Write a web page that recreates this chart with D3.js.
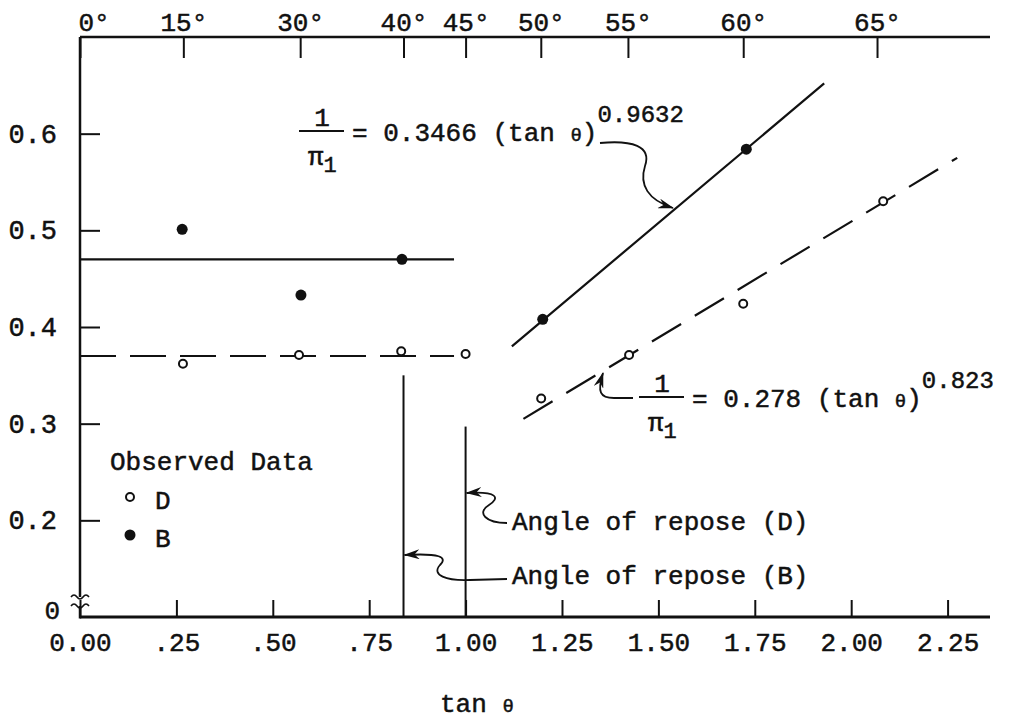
<!DOCTYPE html>
<html>
<head>
<meta charset="utf-8">
<script src="https://cdn.jsdelivr.net/npm/d3@7"></script>
<style>
body { margin: 0; background: #fff; }
text { font-family: "Liberation Mono", "DejaVu Sans Mono", monospace; font-size: 26px; fill: #111; stroke: #111; stroke-width: 0.5px; }
</style>
</head>
<body>
<div id="vis"></div>
<script>
// bottom axis: tan(theta)
const xTicks = [0, 0.25, 0.50, 0.75, 1.00, 1.25, 1.50, 1.75, 2.00, 2.25];
const xTickLabels = ["0.00", ".25", ".50", ".75", "1.00", "1.25", "1.50", "1.75", "2.00", "2.25"];
// top axis: angle, placed where the draftsman put it (in tan units)
const angleTan = [0, 0.268, 0.571, 0.839, 1.0, 1.195, 1.421, 1.72, 2.067];
const angleLabels = ["0°", "15°", "30°", "40°", "45°", "50°", "55°", "60°", "65°"];
// left axis
const yTicks = [0.2, 0.3, 0.4, 0.5, 0.6];
const yTickLabels = ["0.2", "0.3", "0.4", "0.5", "0.6"];

// observed data, B (filled) and D (open)
const bTan = [0.265, 0.573, 0.835, 1.20, 1.728];
const bVal = [0.501, 0.433, 0.470, 0.408, 0.584];
const dTan = [0.267, 0.568, 0.833, 1.0, 1.196, 1.424, 1.72, 2.083];
const dVal = [0.362, 0.371, 0.375, 0.372, 0.326, 0.371, 0.424, 0.530];

// mean levels below the angle of repose
const bMean = 0.47, dMean = 0.37, meanEnd = 0.97;
// fitted lines, end points
const bFitTan = [1.12, 1.93], bFitVal = [0.38, 0.652];
const dFitTan = [1.15, 2.275], dFitVal = [0.305, 0.575];
// angle of repose lines: tan value and top of line
const reposeTan = [0.839, 1.0], reposeTop = [0.35, 0.297];

const width = 1032, height = 719;
const x = d3.scaleLinear().domain([0, 2.36]).range([80, 990]);
const y = d3.scaleLinear().domain([0.1, 0.7]).range([617, 37]);

const svg = d3.select("#vis").append("svg")
  .attr("width", width).attr("height", height)
  .style("background", "#fff");

const defs = svg.append("defs");
defs.append("marker").attr("id", "arr")
  .attr("viewBox", "0 0 16 10").attr("refX", 15).attr("refY", 5)
  .attr("markerWidth", 16).attr("markerHeight", 10)
  .attr("markerUnits", "userSpaceOnUse").attr("orient", "auto")
  .append("path").attr("d", "M0,0 L16,5 L0,10 L5,5 Z").attr("fill", "#111");

// ---- axes
const gx = svg.append("g").attr("transform", `translate(0,${y(0.1)})`)
  .call(d3.axisBottom(x).tickValues(xTicks).tickFormat((d, i) => xTickLabels[i])
    .tickSize(-17).tickSizeOuter(0).tickPadding(16));
gx.select(".domain").remove();

const gt = svg.append("g").attr("transform", `translate(0,${y(0.7)})`)
  .call(d3.axisTop(x).tickValues(angleTan).tickFormat((d, i) => angleLabels[i])
    .tickSize(-21).tickSizeOuter(0).tickPadding(6));
gt.select(".domain").remove();
gt.selectAll(".tick text").filter((d, i) => i === 0).attr("text-anchor", "start").attr("dx", -2);

const gy = svg.append("g").attr("transform", `translate(${x(0)},0)`)
  .call(d3.axisLeft(y).tickValues(yTicks).tickFormat((d, i) => yTickLabels[i])
    .tickSize(-20).tickSizeOuter(0).tickPadding(23));
gy.select(".domain").remove();
gy.selectAll("text").style("font-size", "27px");

svg.selectAll(".tick line").attr("stroke", "#111").attr("stroke-width", 2);

// axis lines
svg.append("line").attr("x1", x(0)).attr("x2", x(2.36)).attr("y1", y(0.1)).attr("y2", y(0.1))
  .attr("stroke", "#111").attr("stroke-width", 3);
svg.append("line").attr("x1", x(0)).attr("x2", x(2.36)).attr("y1", y(0.7)).attr("y2", y(0.7))
  .attr("stroke", "#111").attr("stroke-width", 2.5);
svg.append("line").attr("x1", x(0)).attr("x2", x(0)).attr("y1", y(0.7)).attr("y2", 597)
  .attr("stroke", "#111").attr("stroke-width", 2.5);
svg.append("line").attr("x1", x(0)).attr("x2", x(0)).attr("y1", 606).attr("y2", y(0.1) + 1.5)
  .attr("stroke", "#111").attr("stroke-width", 2.5);
// axis break squiggles
[597, 606].forEach(v => {
  svg.append("path")
    .attr("d", `M${x(0) - 9},${v} q3,-4 6,0 t6,0 t6,0`)
    .attr("fill", "none").attr("stroke", "#111").attr("stroke-width", 1.6);
});
svg.append("text").attr("x", 60).attr("y", y(0.1) + 2).attr("text-anchor", "end").text("0");

svg.append("text").attr("x", 440).attr("y", 712)
  .text("tan ").append("tspan").style("font-size", "19px").text("θ");

// ---- mean lines
svg.append("line").attr("x1", x(0)).attr("x2", x(meanEnd)).attr("y1", y(bMean)).attr("y2", y(bMean))
  .attr("stroke", "#111").attr("stroke-width", 2.2);
svg.append("line").attr("x1", x(0)).attr("x2", x(meanEnd)).attr("y1", y(dMean)).attr("y2", y(dMean))
  .attr("stroke", "#111").attr("stroke-width", 2.2).attr("stroke-dasharray", "36,14");

// ---- fitted lines
const line = d3.line().x(d => x(d[0])).y(d => y(d[1]));
svg.append("path").datum(d3.zip(bFitTan, bFitVal)).attr("d", line)
  .attr("fill", "none").attr("stroke", "#111").attr("stroke-width", 2.2);
svg.append("path").datum(d3.zip(dFitTan, dFitVal)).attr("d", line)
  .attr("fill", "none").attr("stroke", "#111").attr("stroke-width", 2.2)
  .attr("stroke-dasharray", "34,16");

// ---- angle of repose lines
svg.selectAll(".repose").data(d3.zip(reposeTan, reposeTop)).join("line")
  .attr("class", "repose")
  .attr("x1", d => x(d[0])).attr("x2", d => x(d[0]))
  .attr("y1", d => y(d[1])).attr("y2", y(0.1))
  .attr("stroke", "#111").attr("stroke-width", 2);

// ---- points
svg.selectAll(".bpt").data(d3.zip(bTan, bVal)).join("circle")
  .attr("class", "bpt").attr("cx", d => x(d[0])).attr("cy", d => y(d[1]))
  .attr("r", 5.5).attr("fill", "#111");
svg.selectAll(".dpt").data(d3.zip(dTan, dVal)).join("circle")
  .attr("class", "dpt").attr("cx", d => x(d[0])).attr("cy", d => y(d[1]))
  .attr("r", 4).attr("fill", "#fff").attr("stroke", "#111").attr("stroke-width", 2);

// ---- legend
svg.append("text").attr("x", 110).attr("y", 470).text("Observed Data");
svg.append("circle").attr("cx", 130).attr("cy", 497).attr("r", 4)
  .attr("fill", "#fff").attr("stroke", "#111").attr("stroke-width", 2);
svg.append("text").attr("x", 155).attr("y", 509).text("D");
svg.append("circle").attr("cx", 130).attr("cy", 535).attr("r", 5.5).attr("fill", "#111");
svg.append("text").attr("x", 155).attr("y", 547).text("B");

// ---- fitted equations
function equation(bx, by, coef, expo) {
  const g = svg.append("g");
  g.append("text").attr("x", bx - 24).attr("y", by - 5).attr("text-anchor", "middle").text("1");
  g.append("line").attr("x1", bx - 47).attr("x2", bx - 2).attr("y1", by).attr("y2", by)
    .attr("stroke", "#111").attr("stroke-width", 2.2);
  const p = g.append("text").attr("x", bx - 38).attr("y", by + 34).text("π");
  p.append("tspan").style("font-size", "22px").attr("dy", 7).text("1");
  const t = g.append("text").attr("x", bx + 6).attr("y", by + 10);
  t.append("tspan").text("= " + coef + " (tan ");
  t.append("tspan").style("font-size", "19px").text("θ");
  t.append("tspan").text(")");
  t.append("tspan").style("font-size", "24px").attr("dy", -19).text(expo);
}
equation(346, 131, "0.3466", "0.9632");
equation(686, 397, "0.278", "0.823");

// ---- arrows
function arrow(d) {
  svg.append("path").attr("d", d).attr("fill", "none").attr("stroke", "#111")
    .attr("stroke-width", 1.8).attr("marker-end", "url(#arr)");
}
arrow("M600,143 C632,140 652,146 645,166 C639,185 648,200 673,208");
arrow("M633,398 L614,398 C600,398 597,392 603,373");
arrow(`M507,523 C486,523 476,513 489,505 C500,498 498,491 ${x(reposeTan[1]) + 1},493`);
arrow(`M507,579 L470,580 C446,581 431,575 440,565 C448,557 440,553 ${x(reposeTan[0]) + 1},555`);

svg.append("text").attr("x", 512).attr("y", 530).text("Angle of repose (D)");
svg.append("text").attr("x", 512).attr("y", 584).text("Angle of repose (B)");
</script>
</body>
</html>
